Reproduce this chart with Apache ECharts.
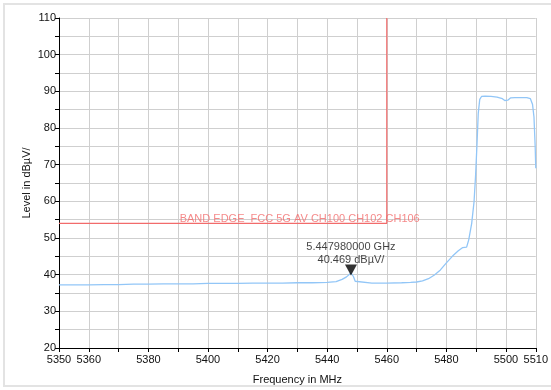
<!DOCTYPE html>
<html>
<head>
<meta charset="utf-8">
<script src="https://cdn.jsdelivr.net/npm/echarts@6/dist/echarts.min.js"></script>
<style>
  html, body { margin: 0; padding: 0; background: #fff; }
  #chart { width: 551px; height: 390px; }
</style>
</head>
<body>
<div id="chart"></div>
<script>
// trace (MHz, dBµV/)
const freqs = [5350, 5355, 5360, 5365, 5370, 5375, 5380, 5385, 5390, 5395, 5400, 5405, 5410, 5415, 5420, 5425, 5430, 5435, 5440, 5443, 5445, 5446.5, 5447.98, 5448.8, 5449.4, 5450, 5455, 5460, 5465, 5468, 5470, 5472, 5474, 5476, 5478, 5480, 5482, 5484, 5485.5, 5486.8, 5487.5, 5488.5, 5489.3, 5489.8, 5490.3, 5490.7, 5491.2, 5491.8, 5493, 5495, 5497, 5498.8, 5499.6, 5500, 5500.6, 5501.5, 5503, 5505, 5507, 5508.2, 5508.9, 5509.4, 5509.8, 5510]
const levels = [37.2, 37.2, 37.2, 37.3, 37.3, 37.4, 37.4, 37.5, 37.5, 37.5, 37.6, 37.6, 37.6, 37.7, 37.7, 37.7, 37.8, 37.8, 37.9, 38.1, 38.7, 39.4, 40.469, 39.5, 38.2, 37.8, 37.7, 37.7, 37.8, 37.9, 38.0, 38.3, 38.9, 39.9, 41.3, 43.2, 45.0, 46.5, 47.4, 47.5, 49.5, 54, 60, 67, 76, 84, 87.8, 88.6, 88.7, 88.6, 88.4, 88.0, 87.5, 87.0, 87.6, 88.2, 88.3, 88.3, 88.3, 88.0, 86.5, 83, 75, 69]

// limit line
const limitFreqs = [5350, 5460, 5460]
const limitLevels = [54, 54, 110]
const limitName = 'BAND EDGE_FCC 5G AV CH100 CH102 CH106'

// marker
const markerFreq = 5447.98
const markerLevel = 40.469

const xLabels = [5350, 5360, 5380, 5400, 5420, 5440, 5460, 5480, 5500, 5510]

const chart = echarts.init(document.getElementById('chart'))

const font = 'Liberation Sans, Arial, sans-serif'

const option = {
  backgroundColor: '#fff',
  animation: false,
  textStyle: { fontFamily: font },
  graphic: [{
    type: 'rect',
    shape: { x: 4, y: 4, width: 580, height: 382 },
    style: { fill: 'none', stroke: '#e3e3e3', lineWidth: 2 },
    silent: true
  }],
  grid: { left: 59, right: 14, top: 18, bottom: 42 },
  xAxis: {
    type: 'value',
    min: 5350,
    max: 5510,
    interval: 10,
    name: 'Frequency in MHz',
    nameLocation: 'middle',
    nameGap: 26,
    nameTextStyle: { fontSize: 11, color: '#111', fontFamily: font },
    axisLine: { onZero: false, lineStyle: { color: '#000', width: 1 } },
    axisTick: { length: 4, lineStyle: { color: '#000' } },
    axisLabel: {
      fontSize: 11,
      color: '#111',
      margin: 6,
      showMaxLabel: true,
      formatter: v => xLabels.includes(v) ? String(v) : ''
    },
    splitLine: { show: true, lineStyle: { color: '#cfcfcf', width: 1 } }
  },
  yAxis: {
    type: 'value',
    min: 20,
    max: 110,
    interval: 5,
    name: 'Level in dBµV/',
    nameLocation: 'middle',
    nameGap: 27,
    nameMoveOverlap: false,
    nameTextStyle: { fontSize: 11, color: '#111', fontFamily: font },
    axisLine: { show: true, lineStyle: { color: '#000', width: 1 } },
    axisTick: { show: true, length: 4, lineStyle: { color: '#000' } },
    axisLabel: {
      fontSize: 11,
      color: '#111',
      margin: 3,
      formatter: v => v % 10 === 0 ? String(v) : ''
    },
    splitLine: { show: true, lineStyle: { color: '#cfcfcf', width: 1 } }
  },
  series: [
    {
      name: 'limit',
      type: 'line',
      data: limitFreqs.map((f, i) => [f, limitLevels[i]]),
      symbol: 'none',
      lineStyle: { color: '#f26b6b', width: 1.2 },
      silent: true,
      z: 3
    },
    {
      name: 'limitLabel',
      type: 'scatter',
      data: [[5390.5, 54]],
      symbolSize: 0,
      silent: true,
      label: {
        show: true,
        position: [0, 0],
        align: 'left',
        verticalAlign: 'bottom',
        offset: [0, 1],
        formatter: limitName,
        fontSize: 11,
        color: '#f26b6b',
        fontFamily: font
      },
      z: 4
    },
    {
      name: 'trace',
      type: 'line',
      data: freqs.map((f, i) => [f, levels[i]]),
      symbol: 'none',
      lineStyle: { color: '#92c6f7', width: 1.3 },
      silent: true,
      z: 5
    },
    {
      name: 'marker',
      type: 'scatter',
      data: [[markerFreq, markerLevel]],
      symbol: 'triangle',
      symbolRotate: 180,
      symbolSize: [12, 11],
      symbolOffset: [0, -3],
      itemStyle: { color: '#000' },
      silent: true,
      label: {
        show: true,
        position: 'top',
        distance: -2,
        formatter: '5.447980000 GHz\n40.469 dBµV/',
        fontSize: 11,
        lineHeight: 13,
        color: '#111',
        fontFamily: font
      },
      z: 6
    }
  ]
}

chart.setOption(option)
</script>
</body>
</html>
